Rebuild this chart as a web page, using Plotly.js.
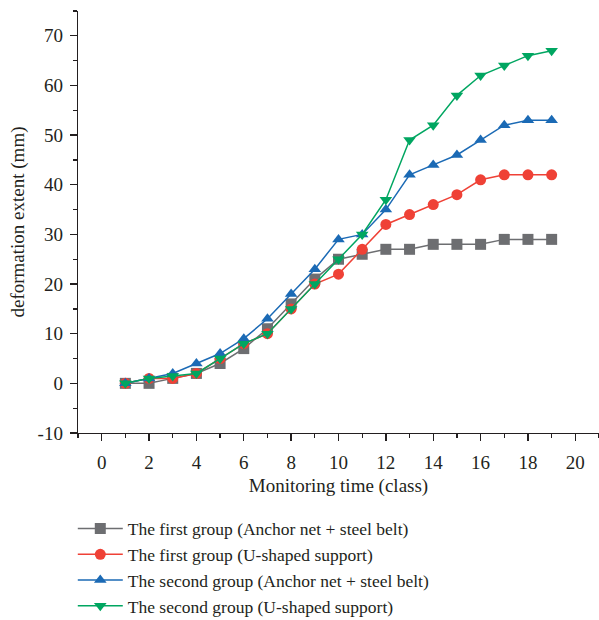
<!DOCTYPE html>
<html>
<head>
<meta charset="utf-8">
<script src="https://cdn.plot.ly/plotly-3.0.1.min.js"></script>
<style>html,body{margin:0;padding:0;background:#fff;}#chart{width:599px;height:620px;}</style>
</head>
<body>
<div id="chart"></div>
<script>
const xValues = [1,2,3,4,5,6,7,8,9,10,11,12,13,14,15,16,17,18,19];
const firstAnchor = [0,0,1,2,4,7,11,16,21,25,26,27,27,28,28,28,29,29,29];
const firstU = [0,1,1,2,5,8,10,15,20,22,27,32,34,36,38,41,42,42,42];
const secondAnchor = [0,1,2,4,6,9,13,18,23,29,30,35,42,44,46,49,52,53,53];
const secondU = [0,1,1.5,2,5,8,10,15,20,25,30,37,49,52,58,62,64,66,67];
const seriesNames = [
  "The first group (Anchor net + steel belt)",
  "The first group (U-shaped support)",
  "The second group (Anchor net + steel belt)",
  "The second group (U-shaped support)"
];
const yTickVals = [-10,0,10,20,30,40,50,60,70];
const yTickText = ["-10","0","10","20","30","40","50","60","70"];
const xTitle = "Monitoring time (class)";
const yTitle = "deformation extent (mm)";

const colors = ["#6d6e71", "#ef4136", "#1b6ab5", "#00a661"];
const symbols = ["square", "circle", "triangle-up", "triangle-down"];
const ys = [firstAnchor, firstU, secondAnchor, secondU];

const traces = ys.map((y, i) => ({
  x: xValues, y: y, name: seriesNames[i], type: "scatter", mode: "lines+markers",
  line: {color: colors[i], width: 1.5},
  marker: {symbol: symbols[i], size: 11, color: colors[i]}
}));

const font = "Liberation Serif, Times New Roman, serif";
const layout = {
  width: 599, height: 620,
  margin: {l: 78, r: 0, t: 11, b: 187, autoexpand: false},
  paper_bgcolor: "#fff", plot_bgcolor: "#fff",
  font: {family: font, size: 19, color: "#231f20"},
  showlegend: true,
  legend: {x: -0.01, y: -0.184, xanchor: "left", yanchor: "top", itemwidth: 45,
           font: {family: font, size: 17.5, color: "#231f20"}, bgcolor: "rgba(0,0,0,0)"},
  xaxis: {
    range: [-1, 21], dtick: 2, tick0: 0, showgrid: false, zeroline: false,
    showline: true, linecolor: "#231f20", linewidth: 1.3, automargin: false,
    ticks: "outside", ticklen: 7, tickcolor: "#231f20", tickwidth: 1.3, ticklabelstandoff: 5,
    minor: {dtick: 1, tick0: 0, ticks: "outside", ticklen: 4, tickcolor: "#231f20", tickwidth: 1.3, showgrid: false},
    tickfont: {family: font, size: 19},
    title: {text: xTitle, font: {family: font, size: 19}, standoff: 6}
  },
  yaxis: {
    tickmode: "array", tickvals: yTickVals, ticktext: yTickText,
    range: [-10, 75], showgrid: false, zeroline: false, automargin: false,
    showline: true, linecolor: "#231f20", linewidth: 1.3,
    ticks: "outside", ticklen: 7, tickcolor: "#231f20", tickwidth: 1.3, ticklabelstandoff: 3,
    minor: {dtick: 5, tick0: 0, ticks: "outside", ticklen: 4, tickcolor: "#231f20", tickwidth: 1.3, showgrid: false},
    tickfont: {family: font, size: 19},
    title: {text: yTitle, font: {family: font, size: 19}, standoff: 8}
  }
};
Plotly.newPlot("chart", traces, layout, {displayModeBar: false, staticPlot: true});
</script>
</body>
</html>
